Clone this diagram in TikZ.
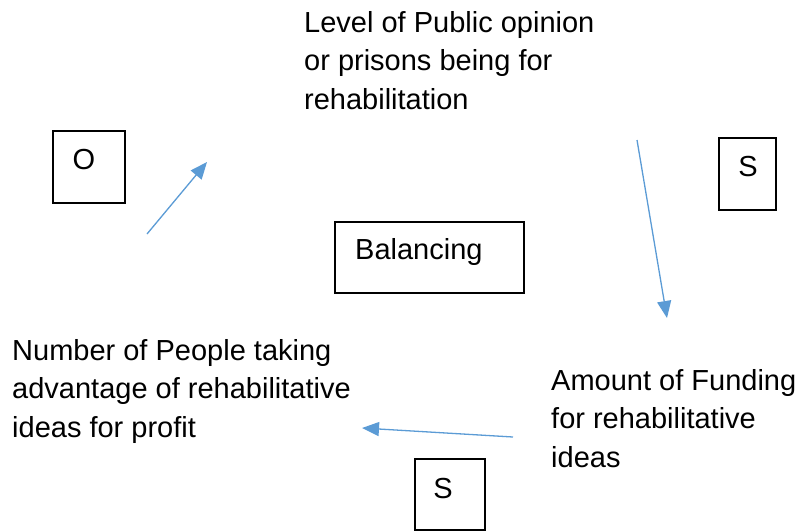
\documentclass[tikz,border=0pt]{standalone}
\usepackage{fontspec}
\setmainfont{Liberation Sans}
\usetikzlibrary{arrows.meta}
\definecolor{arrowblue}{HTML}{5B9BD5}
\begin{document}
\begin{tikzpicture}[x=1pt,y=-1pt,
  txt/.style={anchor=base west,inner sep=0pt,align=left,font=\fontsize{29}{38.5}\selectfont},
  lbl/.style={inner sep=0pt,font=\fontsize{29}{34}\selectfont},
  sbox/.style={draw=black,line width=1.3pt,inner sep=0pt},
  flow/.style={draw=arrowblue,line width=1.3pt,-{Triangle[length=17pt,width=14pt]}}]
\useasboundingbox (0,0) rectangle (802,531);
% text blocks (base anchor = baseline of last line)
\node[txt] (pub) at (304,109) {Level of Public opinion\\or prisons being for\\rehabilitation};
\node[txt] (num) at (12,437) {Number of People taking\\advantage of rehabilitative\\ideas for profit};
\node[txt] (fund) at (551,467) {Amount of Funding\\for rehabilitative\\ideas};
% boxes
\node[sbox,minimum width=72pt,minimum height=72pt] (obox) at (89,167) {};
\node[lbl] (otxt) at (84,160) {O};
\node[sbox,minimum width=57pt,minimum height=72pt] (s1box) at (747.5,174) {};
\node[lbl] (s1txt) at (748,167) {S};
\node[sbox,minimum width=189pt,minimum height=71pt] (bbox) at (429.5,257.5) {};
\node[lbl,anchor=base west] (btxt) at (355,259) {Balancing};
\node[sbox,minimum width=70pt,minimum height=71pt] (s2box) at (450,494.5) {};
\node[lbl] (s2txt) at (443,489) {S};
% connectors
\coordinate (a1s) at (147,234);
\coordinate (a1e) at (207,162);
\coordinate (a2s) at (637,140);
\coordinate (a2e) at (667,318);
\coordinate (a3s) at (513,437);
\coordinate (a3e) at (362,428);
\draw[flow] (a1s) -- (a1e);
\draw[flow] (a2s) -- (a2e);
\draw[flow] (a3s) -- (a3e);
\end{tikzpicture}
\end{document}
